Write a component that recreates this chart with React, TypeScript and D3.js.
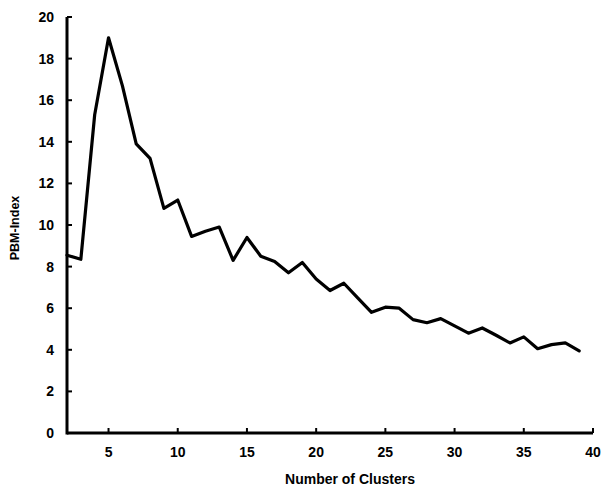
import React from "react";
import * as d3 from "d3";

// number of clusters vs PBM-index
const clusters = [
  2, 3, 4, 5, 6, 7, 8, 9, 10, 11, 12, 13, 14, 15, 16, 17, 18, 19, 20, 21,
  22, 23, 24, 25, 26, 27, 28, 29, 30, 31, 32, 33, 34, 35, 36, 37, 38, 39,
];
const pbmIndex = [
  8.55, 8.35, 15.3, 19.0, 16.7, 13.9, 13.2, 10.8, 11.2, 9.45, 9.7, 9.9, 8.3,
  9.4, 8.5, 8.25, 7.7, 8.2, 7.4, 6.85, 7.2, 6.5, 5.8, 6.05, 6.0, 5.45, 5.3,
  5.5, 5.15, 4.8, 5.05, 4.7, 4.33, 4.62, 4.05, 4.25, 4.33, 3.95,
];
const xTicks = [5, 10, 15, 20, 25, 30, 35, 40];
const yTicks = [0, 2, 4, 6, 8, 10, 12, 14, 16, 18, 20];

const W = 602;
const H = 491;
const FONT = "'Liberation Sans', Arial, Helvetica, sans-serif";

export default function App() {
  const x = d3.scaleLinear().domain([2, 40]).range([67, 593]);
  const y = d3.scaleLinear().domain([0, 20]).range([433, 17]);

  const points = clusters.map((c, i) => [c, pbmIndex[i]] as [number, number]);
  const line = d3
    .line<[number, number]>()
    .x((d) => x(d[0]))
    .y((d) => y(d[1]));

  return (
    <svg
      width={W}
      height={H}
      style={{ position: "absolute", left: 0, top: 0, background: "#fff" }}
      fontFamily={FONT}
    >
      {/* axes */}
      <line x1={x(2)} x2={x(40)} y1={y(0)} y2={y(0)} stroke="#000" strokeWidth={3} />
      <line x1={x(2)} x2={x(2)} y1={y(0) + 1.5} y2={y(20)} stroke="#000" strokeWidth={3} />

      {xTicks.map((t) => (
        <g key={"x" + t}>
          <line x1={x(t)} x2={x(t)} y1={y(0)} y2={y(0) - 5} stroke="#000" strokeWidth={2} />
          <text
            x={x(t)}
            y={457}
            textAnchor="middle"
            fontSize={14}
            fontWeight={700}
            fill="#000"
          >
            {t}
          </text>
        </g>
      ))}

      {yTicks.map((t) => (
        <g key={"y" + t}>
          <line x1={x(2)} x2={x(2) + 5} y1={y(t)} y2={y(t)} stroke="#000" strokeWidth={2} />
          <text
            x={54}
            y={y(t) + 5}
            textAnchor="end"
            fontSize={14}
            fontWeight={700}
            fill="#000"
          >
            {t}
          </text>
        </g>
      ))}

      {/* series */}
      <path
        d={line(points) || ""}
        fill="none"
        stroke="#000"
        strokeWidth={3.2}
        strokeLinejoin="round"
        strokeLinecap="round"
      />

      {/* labels */}
      <text
        transform={`translate(19, 228) rotate(-90)`}
        textAnchor="middle"
        fontSize={12.5}
        fontWeight={700}
        fill="#000"
      >
        PBM-Index
      </text>
      <text x={350} y={484} textAnchor="middle" fontSize={14} fontWeight={700} fill="#000">
        Number of Clusters
      </text>
    </svg>
  );
}
